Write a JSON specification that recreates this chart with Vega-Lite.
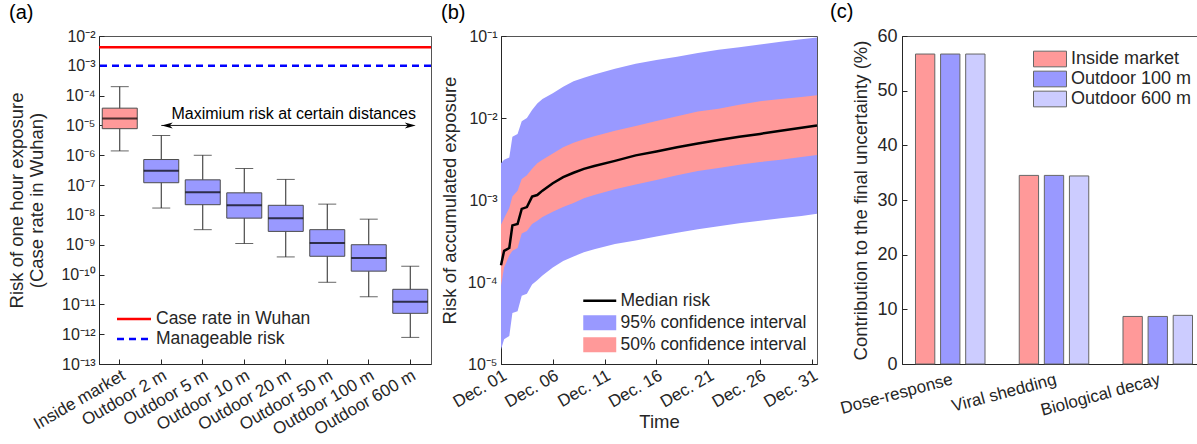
{
  "$schema": "https://vega.github.io/schema/vega-lite/v6.json",
  "padding": {"left": 6, "top": 1, "right": 0, "bottom": 0},
  "spacing": 6,
  "config": {
    "font": "Liberation Sans",
    "view": {"stroke": "#555555", "strokeWidth": 1},
    "axis": {"grid": false, "domainColor": "#262626", "tickColor": "#262626", "labelColor": "#262626", "titleColor": "#262626", "labelFontSize": 17, "titleFontSize": 18.5, "titleFontWeight": "normal", "tickSize": -5, "labelPadding": 10, "labelOverlap": false},
    "legend": {"labelFontSize": 17.5, "labelColor": "#262626", "labelLimit": 300},
    "title": {"fontSize": 20, "fontWeight": "normal", "anchor": "start", "frame": "group", "color": "#000000", "offset": 5}
  },
  "resolve": {"scale": {"color": "independent", "fill": "independent", "stroke": "independent", "strokeDash": "independent"}, "legend": {"color": "independent", "fill": "independent", "stroke": "independent", "strokeDash": "independent"}},
  "hconcat": [
    {
      "width": 332,
      "height": 328,
      "title": {"text": "(a)", "dx": -90},
      "layer": [
        {
          "data": {"values": [
            {"name": "Case rate in Wuhan", "value": 0.0042},
            {"name": "Manageable risk", "value": 0.001}
          ]},
          "mark": {"type": "rule", "strokeWidth": 2.5},
          "encoding": {
            "y": {"field": "value", "type": "quantitative", "scale": {"type": "log", "domain": [1e-13, 0.01], "nice": false},
              "axis": {"values": [1e-13, 1e-12, 1e-11, 1e-10, 1e-9, 1e-8, 1e-7, 1e-6, 1e-5, 1e-4, 1e-3, 1e-2], "labelFontSize": 16, "labelPadding": 9,
                "labelExpr": "'10' + replace(replace(replace(replace(replace(replace(replace(replace(replace(replace(replace('' + round(log(datum.value)/LN10), '-', '⁻'), regexp('0','g'), '⁰'), regexp('1','g'), '¹'), regexp('2','g'), '²'), regexp('3','g'), '³'), regexp('4','g'), '⁴'), regexp('5','g'), '⁵'), regexp('6','g'), '⁶'), regexp('7','g'), '⁷'), regexp('8','g'), '⁸'), regexp('9','g'), '⁹')",
                "title": ["Risk of one hour exposure", "(Case rate in Wuhan)"], "titlePadding": 14}},
            "color": {"field": "name", "type": "nominal", "scale": {"domain": ["Case rate in Wuhan", "Manageable risk"], "range": ["#FF0000", "#0000FF"]},
              "legend": {"orient": "bottom-left", "title": null, "symbolType": "M-2,0H2", "symbolSize": 289, "symbolStrokeWidth": 2.5, "symbolOffset": 9, "labelOffset": 12, "offset": 16, "rowPadding": 1, "labelFontSize": 17.5}},
            "strokeDash": {"field": "name", "type": "nominal", "scale": {"domain": ["Case rate in Wuhan", "Manageable risk"], "range": [[1, 0], [7, 5]]},
              "legend": {"orient": "bottom-left", "title": null, "symbolType": "M-2,0H2", "symbolSize": 289, "symbolStrokeWidth": 2.5, "symbolOffset": 9, "labelOffset": 12, "offset": 16, "rowPadding": 1, "labelFontSize": 17.5}}
          }
        },
        {
          "data": {"values": [
            {"loc": "Inside market", "lo": 1.4e-6, "q1": 7.8e-6, "med": 1.7e-5, "q3": 3.8e-5, "hi": 2.0e-4},
            {"loc": "Outdoor 2 m", "lo": 1.7e-8, "q1": 1.2e-7, "med": 3.0e-7, "q3": 7.2e-7, "hi": 4.6e-6},
            {"loc": "Outdoor 5 m", "lo": 3.2e-9, "q1": 2.2e-8, "med": 5.7e-8, "q3": 1.5e-7, "hi": 1.0e-6},
            {"loc": "Outdoor 10 m", "lo": 1.1e-9, "q1": 7.8e-9, "med": 2.1e-8, "q3": 5.5e-8, "hi": 3.6e-7},
            {"loc": "Outdoor 20 m", "lo": 3.9e-10, "q1": 2.8e-9, "med": 7.8e-9, "q3": 2.1e-8, "hi": 1.55e-7},
            {"loc": "Outdoor 50 m", "lo": 5.5e-11, "q1": 4.1e-10, "med": 1.14e-9, "q3": 3.2e-9, "hi": 2.3e-8},
            {"loc": "Outdoor 100 m", "lo": 1.8e-11, "q1": 1.3e-10, "med": 3.6e-10, "q3": 1.0e-9, "hi": 7.2e-9},
            {"loc": "Outdoor 600 m", "lo": 7.8e-13, "q1": 5.0e-12, "med": 1.23e-11, "q3": 3.2e-11, "hi": 1.9e-10}
          ]},
          "layer": [
            {
              "mark": {"type": "rule", "color": "#262626", "strokeWidth": 1},
              "encoding": {
                "x": {"field": "loc", "type": "nominal", "scale": {"domain": ["Inside market", "Outdoor 2 m", "Outdoor 5 m", "Outdoor 10 m", "Outdoor 20 m", "Outdoor 50 m", "Outdoor 100 m", "Outdoor 600 m"], "paddingInner": 0, "paddingOuter": 0},
                  "axis": {"title": null, "labelAngle": -30, "labelPadding": 8, "labelFontSize": 17}},
                "y": {"field": "lo", "type": "quantitative"},
                "y2": {"field": "hi"}
              }
            },
            {
              "mark": {"type": "tick", "size": 18, "thickness": 1, "color": "#262626"},
              "encoding": {"x": {"field": "loc", "type": "nominal"}, "y": {"field": "lo", "type": "quantitative"}}
            },
            {
              "mark": {"type": "tick", "size": 18, "thickness": 1, "color": "#262626"},
              "encoding": {"x": {"field": "loc", "type": "nominal"}, "y": {"field": "hi", "type": "quantitative"}}
            },
            {
              "mark": {"type": "bar", "size": 35, "stroke": "#4d4d4d", "strokeWidth": 1, "opacity": 1},
              "encoding": {
                "x": {"field": "loc", "type": "nominal"},
                "y": {"field": "q1", "type": "quantitative"},
                "y2": {"field": "q3"},
                "fill": {"field": "loc", "type": "nominal", "scale": {"domain": ["Inside market", "Outdoor 2 m", "Outdoor 5 m", "Outdoor 10 m", "Outdoor 20 m", "Outdoor 50 m", "Outdoor 100 m", "Outdoor 600 m"], "range": ["#FF9999", "#9999FF", "#9999FF", "#9999FF", "#9999FF", "#9999FF", "#9999FF", "#9999FF"]}, "legend": null}
              }
            },
            {
              "mark": {"type": "tick", "size": 35, "thickness": 2, "color": "#000000"},
              "encoding": {"x": {"field": "loc", "type": "nominal"}, "y": {"field": "med", "type": "quantitative"}}
            }
          ]
        },
        {
          "data": {"values": [
            {"from": "Outdoor 2 m", "to": "Outdoor 600 m", "textAt": "Outdoor 20 m", "risk": 1e-5, "textRisk": 2.4e-5, "label": "Maximium risk at certain distances"}
          ]},
          "layer": [
            {
              "mark": {"type": "rule", "color": "#262626", "strokeWidth": 1, "x2Offset": 4},
              "encoding": {
                "x": {"field": "from", "type": "nominal"},
                "x2": {"field": "to"},
                "y": {"field": "risk", "type": "quantitative"}
              }
            },
            {
              "mark": {"type": "point", "shape": "M-1,0L1,-0.55L0.45,0L1,0.55Z", "filled": true, "size": 120, "color": "#000000", "opacity": 1, "xOffset": 6, "strokeWidth": 0},
              "encoding": {"x": {"field": "from", "type": "nominal"}, "y": {"field": "risk", "type": "quantitative"}}
            },
            {
              "mark": {"type": "point", "shape": "M1,0L-1,-0.55L-0.45,0L-1,0.55Z", "filled": true, "size": 120, "color": "#000000", "opacity": 1, "xOffset": 0, "strokeWidth": 0},
              "encoding": {"x": {"field": "to", "type": "nominal"}, "y": {"field": "risk", "type": "quantitative"}}
            },
            {
              "mark": {"type": "text", "fontSize": 16, "color": "#000000", "dx": 8},
              "encoding": {"x": {"field": "textAt", "type": "nominal"}, "y": {"field": "textRisk", "type": "quantitative"}, "text": {"field": "label"}}
            }
          ]
        }
      ]
    },
    {
      "width": 316,
      "height": 328,
      "title": {"text": "(b)", "dx": -60},
      "data": {"values": [
        {"day": 1.0, "lo95": 1.5e-5, "lo50": 9.0e-5, "med": 1.6e-4, "hi50": 5.0e-4, "hi95": 2.8e-3},
        {"day": 1.3, "lo95": 2.0e-5, "lo50": 1.5e-4, "med": 2.4e-4, "hi50": 6.0e-4, "hi95": 3.1e-3},
        {"day": 1.8, "lo95": 2.2e-5, "lo50": 2.1e-4, "med": 2.6e-4, "hi50": 8.0e-4, "hi95": 3.3e-3},
        {"day": 2.1, "lo95": 4.2e-5, "lo50": 2.4e-4, "med": 4.9e-4, "hi50": 1.1e-3, "hi95": 5.9e-3},
        {"day": 2.6, "lo95": 4.4e-5, "lo50": 2.6e-4, "med": 5.1e-4, "hi50": 1.3e-3, "hi95": 6.4e-3},
        {"day": 3.0, "lo95": 6.8e-5, "lo50": 3.9e-4, "med": 7.8e-4, "hi50": 1.8e-3, "hi95": 9.1e-3},
        {"day": 3.5, "lo95": 7.2e-5, "lo50": 4.2e-4, "med": 8.2e-4, "hi50": 2.0e-3, "hi95": 1.0e-2},
        {"day": 4.0, "lo95": 9.3e-5, "lo50": 5.1e-4, "med": 1.1e-3, "hi50": 2.4e-3, "hi95": 1.25e-2},
        {"day": 4.5, "lo95": 1.05e-4, "lo50": 5.6e-4, "med": 1.15e-3, "hi50": 2.8e-3, "hi95": 1.5e-2},
        {"day": 5.0, "lo95": 1.2e-4, "lo50": 6.2e-4, "med": 1.3e-3, "hi50": 3.1e-3, "hi95": 1.7e-2},
        {"day": 6, "lo95": 1.5e-4, "lo50": 7.2e-4, "med": 1.6e-3, "hi50": 3.7e-3, "hi95": 2.0e-2},
        {"day": 7, "lo95": 1.8e-4, "lo50": 8.2e-4, "med": 1.9e-3, "hi50": 4.4e-3, "hi95": 2.4e-2},
        {"day": 8, "lo95": 2.05e-4, "lo50": 9.2e-4, "med": 2.15e-3, "hi50": 5.0e-3, "hi95": 2.8e-2},
        {"day": 9, "lo95": 2.3e-4, "lo50": 1.05e-3, "med": 2.4e-3, "hi50": 5.5e-3, "hi95": 3.1e-2},
        {"day": 10, "lo95": 2.5e-4, "lo50": 1.15e-3, "med": 2.6e-3, "hi50": 6.0e-3, "hi95": 3.4e-2},
        {"day": 12, "lo95": 2.9e-4, "lo50": 1.35e-3, "med": 3.0e-3, "hi50": 7.0e-3, "hi95": 4.0e-2},
        {"day": 14, "lo95": 3.2e-4, "lo50": 1.55e-3, "med": 3.5e-3, "hi50": 8.0e-3, "hi95": 4.6e-2},
        {"day": 16, "lo95": 3.6e-4, "lo50": 1.75e-3, "med": 3.9e-3, "hi50": 9.2e-3, "hi95": 5.1e-2},
        {"day": 18, "lo95": 4.0e-4, "lo50": 2.0e-3, "med": 4.4e-3, "hi50": 1.05e-2, "hi95": 5.6e-2},
        {"day": 20, "lo95": 4.4e-4, "lo50": 2.25e-3, "med": 4.9e-3, "hi50": 1.2e-2, "hi95": 6.2e-2},
        {"day": 22, "lo95": 4.8e-4, "lo50": 2.45e-3, "med": 5.4e-3, "hi50": 1.3e-2, "hi95": 6.8e-2},
        {"day": 24, "lo95": 5.2e-4, "lo50": 2.7e-3, "med": 5.9e-3, "hi50": 1.45e-2, "hi95": 7.3e-2},
        {"day": 26, "lo95": 5.6e-4, "lo50": 2.9e-3, "med": 6.4e-3, "hi50": 1.6e-2, "hi95": 7.9e-2},
        {"day": 28, "lo95": 6.0e-4, "lo50": 3.1e-3, "med": 7.0e-3, "hi50": 1.7e-2, "hi95": 8.5e-2},
        {"day": 30, "lo95": 6.4e-4, "lo50": 3.35e-3, "med": 7.6e-3, "hi50": 1.8e-2, "hi95": 9.1e-2},
        {"day": 31.5, "lo95": 6.8e-4, "lo50": 3.55e-3, "med": 8.1e-3, "hi50": 1.9e-2, "hi95": 9.6e-2}
      ]},
      "layer": [
        {
          "mark": {"type": "area", "opacity": 1},
          "encoding": {
            "x": {"field": "day", "type": "quantitative", "scale": {"domain": [1, 31.5], "nice": false, "zero": false},
              "axis": {"values": [1, 6, 11, 16, 21, 26, 31], "labelExpr": "'Dec. ' + (datum.value < 10 ? '0' : '') + datum.value", "labelAngle": -30, "labelPadding": 8, "title": "Time", "titlePadding": 2}},
            "y": {"field": "lo95", "type": "quantitative", "scale": {"type": "log", "domain": [1e-5, 0.1], "nice": false},
              "axis": {"values": [1e-5, 1e-4, 1e-3, 1e-2, 1e-1], "labelFontSize": 16, "labelPadding": 9,
                "labelExpr": "'10' + replace(replace(replace(replace(replace(replace(replace(replace(replace(replace(replace('' + round(log(datum.value)/LN10), '-', '⁻'), regexp('0','g'), '⁰'), regexp('1','g'), '¹'), regexp('2','g'), '²'), regexp('3','g'), '³'), regexp('4','g'), '⁴'), regexp('5','g'), '⁵'), regexp('6','g'), '⁶'), regexp('7','g'), '⁷'), regexp('8','g'), '⁸'), regexp('9','g'), '⁹')",
                "title": "Risk of accumulated exposure", "titlePadding": 8}},
            "y2": {"field": "hi95"},
            "color": {"datum": "95% confidence interval", "type": "nominal", "scale": {"domain": ["Median risk", "95% confidence interval", "50% confidence interval"], "range": ["#000000", "#9999FF", "#FF9999"]},
              "legend": {"orient": "bottom-right", "title": null, "symbolType": "M-2,-0.9H2V0.9H-2Z", "symbolSize": 272, "symbolOffset": 8, "labelOffset": 12, "symbolStrokeWidth": 0, "symbolOpacity": 1, "offset": 10, "rowPadding": 3,
                "encode": {"symbols": {"update": {"shape": {"signal": "datum.label === 'Median risk' ? 'M-2,-0.14H2V0.14H-2Z' : 'M-2,-0.9H2V0.9H-2Z'"}, "fill": {"signal": "datum.label === 'Median risk' ? '#000000' : (datum.label === '95% confidence interval' ? '#9999FF' : '#FF9999')"}, "opacity": {"value": 1}, "strokeWidth": {"value": 0}}}}}}
          }
        },
        {
          "mark": {"type": "area", "opacity": 1},
          "encoding": {
            "x": {"field": "day", "type": "quantitative"},
            "y": {"field": "lo50", "type": "quantitative"},
            "y2": {"field": "hi50"},
            "color": {"datum": "50% confidence interval", "type": "nominal"}
          }
        },
        {
          "mark": {"type": "line", "strokeWidth": 2.5},
          "encoding": {
            "x": {"field": "day", "type": "quantitative"},
            "y": {"field": "med", "type": "quantitative"},
            "color": {"datum": "Median risk", "type": "nominal"}
          }
        }
      ]
    },
    {
      "width": 304,
      "height": 328,
      "title": {"text": "(c)", "dx": -72},
      "data": {"values": [
        {"factor": "Dose-response", "loc": "Inside market", "value": 56.7},
        {"factor": "Dose-response", "loc": "Outdoor 100 m", "value": 56.7},
        {"factor": "Dose-response", "loc": "Outdoor 600 m", "value": 56.7},
        {"factor": "Viral shedding", "loc": "Inside market", "value": 34.5},
        {"factor": "Viral shedding", "loc": "Outdoor 100 m", "value": 34.5},
        {"factor": "Viral shedding", "loc": "Outdoor 600 m", "value": 34.4},
        {"factor": "Biological decay", "loc": "Inside market", "value": 8.7},
        {"factor": "Biological decay", "loc": "Outdoor 100 m", "value": 8.7},
        {"factor": "Biological decay", "loc": "Outdoor 600 m", "value": 8.9}
      ]},
      "mark": {"type": "bar", "stroke": "#666666", "strokeWidth": 1},
      "encoding": {
        "x": {"field": "factor", "type": "nominal", "sort": ["Dose-response", "Viral shedding", "Biological decay"], "scale": {"paddingInner": 0.33, "paddingOuter": 0.13},
          "axis": {"title": null, "labelAngle": -15, "labelPadding": 12}},
        "xOffset": {"field": "loc", "type": "nominal", "sort": ["Inside market", "Outdoor 100 m", "Outdoor 600 m"], "scale": {"paddingInner": 0.23, "paddingOuter": 0}},
        "y": {"field": "value", "type": "quantitative", "scale": {"domain": [0, 60], "nice": false},
          "axis": {"values": [0, 10, 20, 30, 40, 50, 60], "title": "Contribution to the final uncertainty (%)", "titlePadding": 6, "labelFontSize": 18}},
        "fill": {"field": "loc", "type": "nominal", "scale": {"domain": ["Inside market", "Outdoor 100 m", "Outdoor 600 m"], "range": ["#FF9999", "#9999FF", "#CCCCFF"]},
          "legend": {"orient": "top-right", "title": null, "symbolType": "M-2,-0.95H2V0.95H-2Z", "symbolSize": 272, "symbolOffset": 8, "labelOffset": 12, "symbolStrokeColor": "#666666", "symbolStrokeWidth": 1, "labelFontSize": 18, "offset": 14, "rowPadding": 0}}
      }
    }
  ]
}
